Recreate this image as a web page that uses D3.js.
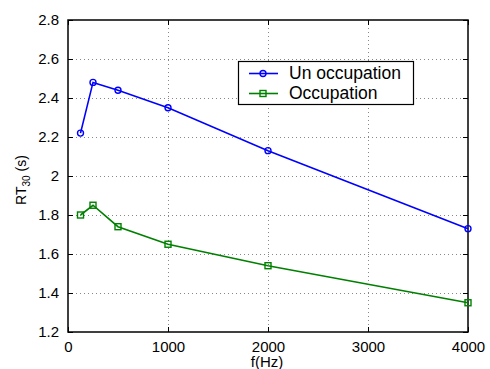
<!DOCTYPE html>
<html>
<head>
<meta charset="utf-8">
<style>
  body { margin: 0; background: #fff; }
  text { font-family: "Liberation Sans", Arial, sans-serif; }
</style>
</head>
<body>
<script src="https://cdn.jsdelivr.net/npm/d3@7"></script>
<script>
var freqs = [125, 250, 500, 1000, 2000, 4000];
var unOccupied = [2.22, 2.48, 2.44, 2.35, 2.13, 1.73];
var occupied = [1.80, 1.85, 1.74, 1.65, 1.54, 1.35];
var xTicks = [0, 1000, 2000, 3000, 4000];
var yTicks = [1.2, 1.4, 1.6, 1.8, 2, 2.2, 2.4, 2.6, 2.8];
var seriesNames = ["Un occupation", "Occupation"];

var width = 490, height = 369;
var plotL = 68, plotR = 468, plotT = 20, plotB = 332;

var svg = d3.select("body").append("svg")
    .attr("width", width)
    .attr("height", height);

var x = d3.scaleLinear().domain([0, 4000]).range([plotL, plotR]);
var y = d3.scaleLinear().domain([1.2, 2.8]).range([plotB, plotT]);

// grid
var grid = svg.append("g");
grid.selectAll("line.gx")
    .data(xTicks.slice(1, -1))
    .enter().append("line")
    .attr("x1", function (d) { return Math.round(x(d)) + 0.5; })
    .attr("x2", function (d) { return Math.round(x(d)) + 0.5; })
    .attr("y1", plotT).attr("y2", plotB)
    .attr("stroke", "#888").attr("stroke-width", 1)
    .attr("stroke-dasharray", "1,3");
grid.selectAll("line.gy")
    .data(yTicks.slice(1, -1))
    .enter().append("line")
    .attr("x1", plotL).attr("x2", plotR)
    .attr("y1", function (d) { return Math.round(y(d)) + 0.5; })
    .attr("y2", function (d) { return Math.round(y(d)) + 0.5; })
    .attr("stroke", "#888").attr("stroke-width", 1)
    .attr("stroke-dasharray", "1,3");

// axes (ticks inside, MATLAB style)
function styleAxis(g) {
    g.selectAll(".domain").remove();
    g.selectAll(".tick line").attr("stroke", "#000");
    g.selectAll(".tick text")
        .attr("fill", "#000")
        .style("font-size", "15px")
        .style("font-family", "'Liberation Sans', Arial, sans-serif");
}

var xAxis = svg.append("g")
    .attr("transform", "translate(0," + plotB + ")")
    .call(d3.axisBottom(x).tickValues(xTicks).tickSize(-5).tickPadding(9).tickFormat(d3.format("d")));
styleAxis(xAxis);

var xAxisTop = svg.append("g")
    .attr("transform", "translate(0," + plotT + ")")
    .call(d3.axisTop(x).tickValues(xTicks).tickSize(-5).tickFormat(""));
styleAxis(xAxisTop);

var yAxis = svg.append("g")
    .attr("transform", "translate(" + plotL + ",0)")
    .call(d3.axisLeft(y).tickValues(yTicks).tickSize(-5).tickPadding(9).tickFormat(function (d) { return d3.format("")(+d.toFixed(1)); }));
styleAxis(yAxis);

var yAxisRight = svg.append("g")
    .attr("transform", "translate(" + plotR + ",0)")
    .call(d3.axisRight(y).tickValues(yTicks).tickSize(-5).tickFormat(""));
styleAxis(yAxisRight);

svg.append("rect")
    .attr("x", plotL).attr("y", plotT)
    .attr("width", plotR - plotL).attr("height", plotB - plotT)
    .attr("fill", "none").attr("stroke", "#000").attr("stroke-width", 1.5);

// series
var line = d3.line()
    .x(function (d) { return x(d[0]); })
    .y(function (d) { return y(d[1]); });

function drawSeries(vals, color, marker) {
    var pts = freqs.map(function (f, i) { return [f, vals[i]]; });
    svg.append("path")
        .datum(pts)
        .attr("d", line)
        .attr("fill", "none")
        .attr("stroke", color)
        .attr("stroke-width", 1.6);
    var g = svg.append("g");
    pts.forEach(function (p) {
        drawMarker(g, x(p[0]), y(p[1]), color, marker);
    });
}

function drawMarker(g, cx, cy, color, marker) {
    if (marker === "circle") {
        g.append("circle").attr("cx", cx).attr("cy", cy).attr("r", 3)
            .attr("fill", "none").attr("stroke", color).attr("stroke-width", 1.4);
    } else {
        g.append("rect").attr("x", cx - 3).attr("y", cy - 3)
            .attr("width", 6).attr("height", 6)
            .attr("fill", "none").attr("stroke", color).attr("stroke-width", 1.4);
    }
}

var colors = ["#0000ff", "#008000"];
var markers = ["circle", "square"];
drawSeries(unOccupied, colors[0], markers[0]);
drawSeries(occupied, colors[1], markers[1]);

// legend
var legend = svg.append("g");
legend.append("rect")
    .attr("x", 238.5).attr("y", 61.5)
    .attr("width", 175).attr("height", 43)
    .attr("fill", "#fff").attr("stroke", "#000").attr("stroke-width", 1.2);
seriesNames.forEach(function (name, i) {
    var ly = 73.5 + i * 20;
    legend.append("line")
        .attr("x1", 249).attr("x2", 278)
        .attr("y1", ly).attr("y2", ly)
        .attr("stroke", colors[i]).attr("stroke-width", 1.6);
    drawMarker(legend, 263, ly, colors[i], markers[i]);
    legend.append("text")
        .attr("x", 289).attr("y", ly + 5)
        .style("font-size", "17.5px")
        .text(name);
});

// axis labels
svg.append("text")
    .attr("x", 267).attr("y", 367)
    .attr("text-anchor", "middle")
    .style("font-size", "15px")
    .text("f(Hz)");

var yl = svg.append("text")
    .attr("transform", "translate(26,180) rotate(-90)")
    .attr("text-anchor", "middle")
    .style("font-size", "14px");
yl.append("tspan").text("RT");
yl.append("tspan").attr("dy", 4).style("font-size", "10px").text("30");
yl.append("tspan").attr("dy", -4).text(" (s)");
</script>
</body>
</html>
